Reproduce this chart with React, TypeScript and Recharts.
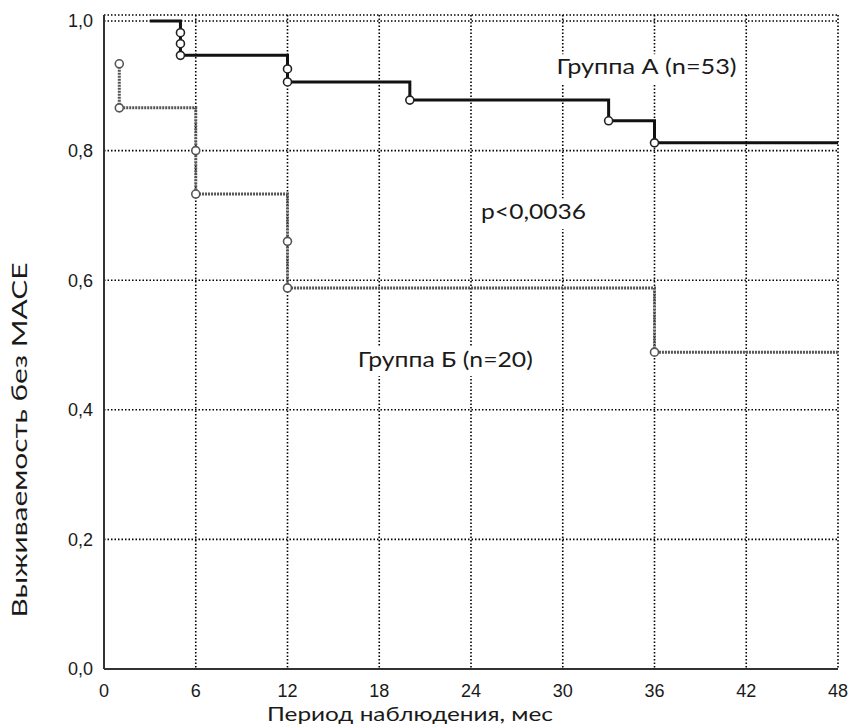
import React from "react";
import {
  ComposedChart,
  Line,
  Scatter,
  XAxis,
  YAxis,
  CartesianGrid,
  ReferenceDot,
} from "recharts";

// ---- data ----
const xTicks = [0, 6, 12, 18, 24, 30, 36, 42, 48];
const yTicks = [0, 0.2, 0.4, 0.6, 0.8, 1.0];
const topTicks = [2, 10, 18, 26, 34, 42, 50];

const groupATimes = [3, 5, 12, 20, 33, 36, 48];
const groupASurv = [1.0, 0.947, 0.906, 0.878, 0.846, 0.812, 0.812];

const groupBTimes = [1, 1, 6, 12, 36, 48];
const groupBSurv = [0.934, 0.866, 0.733, 0.588, 0.489, 0.489];

const groupAEventTimes = [5, 5, 5, 12, 12, 20, 33, 36];
const groupAEventSurv = [0.982, 0.965, 0.947, 0.926, 0.906, 0.878, 0.846, 0.812];

const groupBEventTimes = [1, 1, 6, 6, 12, 12, 36];
const groupBEventSurv = [0.934, 0.866, 0.8, 0.733, 0.66, 0.588, 0.489];

const annotationTexts = ["Группа А (n=53)", "p<0,0036", "Группа Б (n=20)"];
const annotationT = [29.6, 24.66, 16.6];
const annotationS = [0.918, 0.694, 0.4665];

const xLabel = "Период наблюдения, мес";
const yLabel = "Выживаемость без MACE";

// ---- derived tables ----
const zip = (ts: number[], ss: number[]) => ts.map((t, i) => ({ t, s: ss[i] }));
const lineA = zip(groupATimes, groupASurv);
const lineB = zip(groupBTimes, groupBSurv);
const eventsA = zip(groupAEventTimes, groupAEventSurv);
const eventsB = zip(groupBEventTimes, groupBEventSurv);

// ---- styles ----
const annotationWidths = [180, 105, 175];
const annotationSizes = [21, 22, 21];
const labelFont = "Lato, 'DejaVu Sans', sans-serif";
const tickFont = "'Liberation Sans', Arial, sans-serif";

const fmt = (v: number) => v.toFixed(1).replace(".", ",");

const makeAnnotation = (i: number) => (props: any) => {
  const vb = props.viewBox || {};
  const x = vb.x + (vb.width || 0) / 2;
  const y = vb.y + (vb.height || 0) / 2;
  const fs = annotationSizes[i];
  const w = annotationWidths[i];
  return (
    <g>
      <rect x={x - 3} y={y - fs * 0.95} width={w + 6} height={fs * 1.4} fill="#fff" />
      <text
        x={x}
        y={y}
        fontSize={fs}
        fontFamily={labelFont}
        fill="#1a1a1a"
        textLength={w}
        lengthAdjust="spacingAndGlyphs"
      >
        {annotationTexts[i]}
      </text>
    </g>
  );
};

const CircleA = (p: any) => (
  <circle cx={p.cx} cy={p.cy} r={4} fill="#fff" stroke="#222" strokeWidth={1.6} />
);
const CircleB = (p: any) => (
  <circle cx={p.cx} cy={p.cy} r={4} fill="#fff" stroke="#555" strokeWidth={1.6} />
);

const XLabelContent = (props: any) => {
  const vb = props.viewBox;
  return (
    <text
      x={vb.x + 306}
      y={vb.y + 52}
      textAnchor="middle"
      fontSize={20}
      fontFamily={labelFont}
      fill="#1a1a1a"
      textLength={286}
      lengthAdjust="spacingAndGlyphs"
    >
      {xLabel}
    </text>
  );
};

const YLabelContent = (props: any) => {
  const vb = props.viewBox;
  const cx = vb.x + 27;
  const cy = vb.y + 425;
  return (
    <text
      x={cx}
      y={cy}
      transform={`rotate(-90, ${cx}, ${cy})`}
      textAnchor="middle"
      fontSize={22}
      fontFamily={labelFont}
      fill="#1a1a1a"
      textLength={355}
      lengthAdjust="spacingAndGlyphs"
    >
      {yLabel}
    </text>
  );
};

const EmptyTick = () => <g />;

export default function App() {
  return (
    <div style={{ position: "absolute", left: 0, top: 0, width: 851, height: 727 }}>
      <ComposedChart
        width={851}
        height={727}
        margin={{ top: 15, right: 13, bottom: 0, left: 0 }}
        style={{ background: "#fff" }}
      >
        <CartesianGrid
          xAxisId="main"
          yAxisId="left"
          stroke="#000"
          strokeWidth={1.6}
          strokeDasharray="1.5 2"
        />
        <XAxis
          xAxisId="main"
          dataKey="t"
          type="number"
          domain={[0, 48]}
          ticks={xTicks}
          interval={0}
          height={58}
          axisLine={{ stroke: "#333", strokeWidth: 2 }}
          tickLine={false}
          tickSize={6}
          tickMargin={9}
          tick={{ fontSize: 18, fontFamily: tickFont, fill: "#1a1a1a" }}
          label={{ content: XLabelContent } as any}
        />
        <XAxis
          xAxisId="top"
          orientation="top"
          type="number"
          domain={[0, 50]}
          ticks={topTicks}
          interval={0}
          height={0}
          mirror
          tick={EmptyTick}
          tickLine={{ stroke: "#333", strokeWidth: 1.5 }}
          tickSize={4}
          axisLine={{ stroke: "#333", strokeWidth: 1.5 }}
        />
        <YAxis
          yAxisId="left"
          dataKey="s"
          type="number"
          domain={[0, 1.0093]}
          ticks={yTicks}
          interval={0}
          width={104}
          axisLine={{ stroke: "#333", strokeWidth: 2 }}
          tickLine={false}
          tickSize={6}
          tickMargin={5}
          tickFormatter={fmt}
          tick={{ fontSize: 18, fontFamily: tickFont, fill: "#1a1a1a" }}
          label={{ content: YLabelContent } as any}
        />
        <YAxis
          yAxisId="right"
          orientation="right"
          type="number"
          domain={[0, 1.0093]}
          width={0}
          tick={false}
          tickLine={false}
          axisLine={{ stroke: "#333", strokeWidth: 2 }}
        />
        <Line
          xAxisId="main"
          yAxisId="left"
          data={lineB}
          dataKey="s"
          type="stepAfter"
          stroke="#555"
          strokeWidth={3}
          strokeDasharray="2 1"
          dot={false}
          activeDot={false}
          isAnimationActive={false}
        />
        <Line
          xAxisId="main"
          yAxisId="left"
          data={lineA}
          dataKey="s"
          type="stepAfter"
          stroke="#111"
          strokeWidth={3}
          dot={false}
          activeDot={false}
          isAnimationActive={false}
        />
        <Scatter
          xAxisId="main"
          yAxisId="left"
          data={eventsB}
          dataKey="s"
          shape={CircleB}
          isAnimationActive={false}
        />
        <Scatter
          xAxisId="main"
          yAxisId="left"
          data={eventsA}
          dataKey="s"
          shape={CircleA}
          isAnimationActive={false}
        />
        {annotationTexts.map((_, i) => (
          <ReferenceDot
            key={i}
            xAxisId="main"
            yAxisId="left"
            x={annotationT[i]}
            y={annotationS[i]}
            r={0}
            fill="none"
            stroke="none"
            label={{ content: makeAnnotation(i) } as any}
          />
        ))}
      </ComposedChart>
    </div>
  );
}
